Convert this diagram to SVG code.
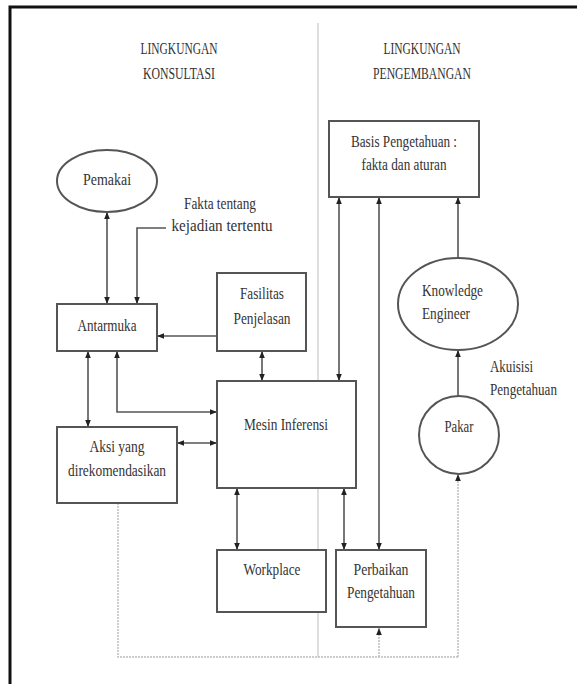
<svg xmlns="http://www.w3.org/2000/svg" width="577" height="684" viewBox="0 0 577 684">
  <defs>
    <marker id="arrow" viewBox="0 0 10 10" refX="10" refY="5" markerWidth="7" markerHeight="7" markerUnits="userSpaceOnUse" orient="auto-start-reverse">
      <path d="M0,1 L10,5 L0,9 Z" fill="#222"/>
    </marker>
    <marker id="arrowGray" viewBox="0 0 10 10" refX="10" refY="5" markerWidth="7" markerHeight="7" markerUnits="userSpaceOnUse" orient="auto-start-reverse">
      <path d="M0,1 L10,5 L0,9 Z" fill="#222"/>
    </marker>
  </defs>
  <style>
    .frame { fill: none; stroke: #111; stroke-width: 3; }
    .box { fill: #fff; stroke: #555; stroke-width: 2; }
    .link { fill: none; stroke: #555; stroke-width: 1.6; }
    .both { marker-start: url(#arrow); marker-end: url(#arrow); }
    .end { marker-end: url(#arrow); }
    .dotted { fill: none; stroke: #bdbdbd; stroke-width: 1.5; stroke-dasharray: 2 1; }
    .divider { fill: none; stroke: #c8c8c8; stroke-width: 1.2; }
    text { font-family: "Liberation Serif", "Times New Roman", serif; font-size: 16px; fill: #333; text-anchor: middle; }
    .left { text-anchor: start; }
  </style>

  <rect width="577" height="684" fill="#fff"/>
  <!-- outer frame, open past the right and bottom edges -->
  <rect class="frame" x="10" y="7" width="600" height="700"/>

  <!-- section headings -->
  <g id="heading-konsultasi">
    <text x="179" y="54" textLength="77" lengthAdjust="spacingAndGlyphs">LINGKUNGAN</text>
    <text x="179" y="79" textLength="72" lengthAdjust="spacingAndGlyphs">KONSULTASI</text>
  </g>
  <g id="heading-pengembangan">
    <text x="422" y="54" textLength="77" lengthAdjust="spacingAndGlyphs">LINGKUNGAN</text>
    <text x="422" y="79" textLength="98" lengthAdjust="spacingAndGlyphs">PENGEMBANGAN</text>
  </g>

  <!-- connectors -->
  <g id="connectors">
    <line class="divider" x1="318" y1="23" x2="318" y2="657"/>
    <path class="dotted" d="M118,503 V657 H458"/>
    <path class="dotted" d="M379,657 V627"/>
    <path class="dotted" d="M458,657 V473"/>
    <path class="link" d="M379,657 V628" stroke-opacity="0" marker-end="url(#arrowGray)"/>
    <path class="link" d="M458,657 V474" stroke-opacity="0" marker-end="url(#arrowGray)"/>

    <path class="link both" d="M107,212 V304"/>
    <path class="link end" d="M166,228 H137 V304"/>
    <path class="link end" d="M217,336 H157"/>
    <path class="link both" d="M262,351 V381"/>
    <path class="link both" d="M88,351 V427"/>
    <path class="link both" d="M117,351 V412 H217"/>
    <path class="link both" d="M177,443 H217"/>
    <path class="link both" d="M237,488 V550"/>
    <path class="link both" d="M344,488 V550"/>
    <path class="link both" d="M339,197 V381"/>
    <path class="link both" d="M379,197 V550"/>
    <path class="link end" d="M458,258 V197"/>
    <path class="link end" d="M458,396 V350"/>
  </g>

  <!-- nodes -->
  <g id="basis-pengetahuan">
    <rect class="box" x="329" y="121" width="150" height="76"/>
    <text x="404" y="147" textLength="106" lengthAdjust="spacingAndGlyphs">Basis Pengetahuan :</text>
    <text x="404" y="170" textLength="85" lengthAdjust="spacingAndGlyphs">fakta dan aturan</text>
  </g>

  <g id="pemakai">
    <ellipse class="box" cx="107" cy="181" rx="50" ry="31"/>
    <text x="107" y="185" textLength="48" lengthAdjust="spacingAndGlyphs">Pemakai</text>
  </g>

  <g id="fakta-kejadian">
    <text x="220" y="209" textLength="72" lengthAdjust="spacingAndGlyphs">Fakta tentang</text>
    <text x="222" y="231" textLength="101" lengthAdjust="spacingAndGlyphs">kejadian tertentu</text>
  </g>

  <g id="antarmuka">
    <rect class="box" x="57" y="304" width="100" height="47"/>
    <text x="107" y="331" textLength="59" lengthAdjust="spacingAndGlyphs">Antarmuka</text>
  </g>

  <g id="fasilitas-penjelasan">
    <rect class="box" x="217" y="273" width="89" height="78"/>
    <text x="262" y="299" textLength="44" lengthAdjust="spacingAndGlyphs">Fasilitas</text>
    <text x="262" y="324" textLength="57" lengthAdjust="spacingAndGlyphs">Penjelasan</text>
  </g>

  <g id="mesin-inferensi">
    <rect class="box" x="217" y="381" width="139" height="107"/>
    <text x="286" y="430" textLength="84" lengthAdjust="spacingAndGlyphs">Mesin Inferensi</text>
  </g>

  <g id="aksi">
    <rect class="box" x="57" y="427" width="120" height="76"/>
    <text x="117" y="452" textLength="55" lengthAdjust="spacingAndGlyphs">Aksi yang</text>
    <text x="117" y="476" textLength="98" lengthAdjust="spacingAndGlyphs">direkomendasikan</text>
  </g>

  <g id="workplace">
    <rect class="box" x="217" y="550" width="109" height="62"/>
    <text x="272" y="575" textLength="57" lengthAdjust="spacingAndGlyphs">Workplace</text>
  </g>

  <g id="perbaikan-pengetahuan">
    <rect class="box" x="336" y="550" width="90" height="77"/>
    <text x="381" y="575" textLength="55" lengthAdjust="spacingAndGlyphs">Perbaikan</text>
    <text x="381" y="598" textLength="68" lengthAdjust="spacingAndGlyphs">Pengetahuan</text>
  </g>

  <g id="knowledge-engineer">
    <ellipse class="box" cx="458" cy="304" rx="60" ry="46"/>
    <text class="left" x="422" y="296" textLength="61" lengthAdjust="spacingAndGlyphs">Knowledge</text>
    <text class="left" x="422" y="319" textLength="48" lengthAdjust="spacingAndGlyphs">Engineer</text>
  </g>

  <g id="akuisisi">
    <text class="left" x="490" y="372" textLength="43" lengthAdjust="spacingAndGlyphs">Akuisisi</text>
    <text class="left" x="490" y="395" textLength="67" lengthAdjust="spacingAndGlyphs">Pengetahuan</text>
  </g>

  <g id="pakar">
    <ellipse class="box" cx="459" cy="435" rx="40" ry="39"/>
    <text x="459" y="432" textLength="29" lengthAdjust="spacingAndGlyphs">Pakar</text>
  </g>
</svg>
